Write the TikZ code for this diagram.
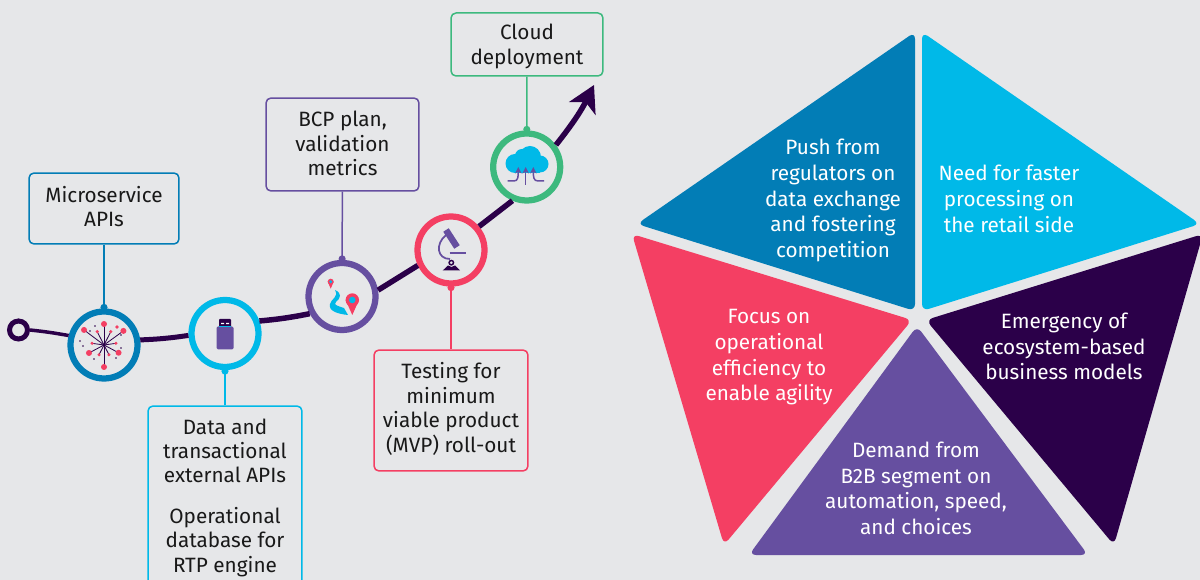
\documentclass[tikz,border=0pt]{standalone}
\usepackage{fontspec}
\setmainfont{Fira Sans}
\usetikzlibrary{arrows.meta}
\definecolor{pagegrey}{HTML}{E6E7E9}
\definecolor{deepblue}{HTML}{027DB6}
\definecolor{skyblue}{HTML}{00B9E8}
\definecolor{rosered}{HTML}{F43F63}
\definecolor{violet}{HTML}{664FA0}
\definecolor{aubergine}{HTML}{2B0049}
\definecolor{mintgreen}{HTML}{3DB97E}
\tikzset{
 notetext/.style={font=\fontsize{11.8}{13.9}\selectfont,align=center,inner sep=0pt,text=black!90},
 notebox/.style={draw=#1,line width=.03cm,rounded corners=.1cm,inner sep=0pt},
 petal/.style={fill=#1,rounded corners=.14cm},
 petaltext/.style={font=\fontsize{11.8}{14.6}\selectfont,align=center,inner sep=0pt,text=white},
 ring/.style={circle,draw=#1,line width=.125cm,minimum size=1.34cm,inner sep=0pt},
 stem/.style={draw=#1,line width=.03cm,shorten >=-.05cm,-{Circle[length=.14cm,width=.14cm]}},
 road/.style={aubergine,line width=#1},
}
\newcommand{\milestone}[3]{%
 \node[ring=#3] (#1) at (#2) {};%
}
\newcommand{\pinmark}[5]{%
 \fill[rosered] (#1-#3,#2) -- (#1,#4) -- (#1+#3,#2) -- cycle;%
 \fill[rosered] (#1,#2) circle (#3);%
 \fill[skyblue] (#1,#2) circle (#5);%
}
\begin{document}
\begin{tikzpicture}[x=.02cm,y=-.02cm]
   \path[use as bounding box,clip] (0,0) rectangle (1200,580);
   \fill[pagegrey] (0,0) rectangle (1200,580);
   % pentagon
   \fill[petal=deepblue] (915,32) -- (915,311) -- (637,224) -- cycle;
   \fill[petal=skyblue] (922,32) -- (922,311) -- (1200,224) -- cycle;
   \fill[petal=rosered] (632,234) -- (912,320) -- (724,545) -- cycle;
   \fill[petal=aubergine] (1203,234) -- (926,320) -- (1114,545) -- cycle;
   \fill[petal=violet] (917,326) -- (1088,555) -- (749,555) -- cycle;
   \node[petaltext] (push) at (833,200.5) {Push from\\regulators on\\data exchange\\and fostering\\competition};
   \node[petaltext] (need) at (1009,199) {Need for faster\\processing on\\the retail side};
   \node[petaltext] (focus) at (769,357.5) {Focus on\\operational\\efficiency to\\enable agility};
   \node[petaltext] (emerge) at (1064,346.5) {Emergency of\\ecosystem-based\\business models};
   \node[petaltext] (demand) at (916,488.5) {Demand from\\B2B segment on\\automation, speed,\\and choices};
   % milestones
   \milestone{m1}{104,345}{deepblue};
   \milestone{m2}{225,333.5}{skyblue};
   \milestone{m3}{342,296.5}{violet};
   \milestone{m4}{451,250}{rosered};
   \milestone{m5}{526.7,167}{mintgreen};
   \node[circle,draw=aubergine,line width=.1cm,minimum size=.36cm,inner sep=0pt] (origin) at (18.5,330) {};
   \coordinate (tip) at (594,85);
   % road
   \draw[road=.07cm] (origin.east) to[bend left=2] (m1.165);
   \draw[road=.1cm] (m1.8) to[bend right=3] (m2.183);
   \draw[road=.11cm] (m2.20) to[bend right=3] (m3.208);
   \draw[road=.11cm] (m3.10) -- (m4.205);
   \draw[road=.11cm] (m4.40) -- (m5.247);
   \draw[road=.11cm,-{Stealth[length=.52cm,width=.58cm,inset=.14cm]}] (m5.37) to[bend right=6] (tip);
   % notes
   \node[notebox=deepblue,minimum width=3cm,minimum height=1.42cm] (b1) at (104,208.5) {};
   \node[notebox=skyblue,minimum width=3.08cm,minimum height=3.8cm] (b2) at (225,501) {};
   \node[notebox=violet,minimum width=3.06cm,minimum height=1.86cm] (b3) at (342.5,144.5) {};
   \node[notebox=rosered,minimum width=3.08cm,minimum height=2.42cm] (b4) at (451,410.5) {};
   \node[notebox=mintgreen,minimum width=3.04cm,minimum height=1.26cm] (b5) at (527,44.5) {};
   \node[notetext] (t1) at (104,206.5) {Microservice\\APIs};
   \node[notetext] (t2) at (225,497.5) {Data and\\transactional\\external APIs\\[.32cm]Operational\\database for\\RTP engine};
   \node[notetext] (t3) at (342.5,143.5) {BCP plan,\\validation\\metrics};
   \node[notetext] (t4) at (451,409) {Testing for\\minimum\\viable product\\(MVP) roll-out};
   \node[notetext] (t5) at (527,46.5) {Cloud\\deployment};
   \draw[stem=deepblue] (b1) -- (m1);
   \draw[stem=skyblue] (b2) -- (m2);
   \draw[stem=violet] (b3) -- (m3);
   \draw[stem=rosered] (b4) -- (m4);
   \draw[stem=mintgreen] (b5) -- (m5);
   % icon m1
   \foreach \a/\r in {270/21,90/22,217/25,324/24,28/16.5,152/17} {
     \draw[aubergine,line width=.016cm] (104,345) -- ++(\a:\r);
     \fill[rosered] (104,345) ++(\a:\r) circle (3);
   }
   \foreach \a/\r in {243/15,297/15,188/12,352/12,63/11,117/11} {
     \draw[aubergine,line width=.016cm] (104,345) -- ++(\a:\r);
     \fill[rosered] (104,345) ++(\a:\r) circle (1.7);
   }
   \fill[rosered] (117,327) circle (1.8);
   \foreach \x/\y in {95/326,80/341,83/346,94/359,116/358,121/348,90/331,121/335} {
     \fill[aubergine] (\x,\y) circle (.9);
   }
   % icon m2
   \fill[aubergine,rounded corners=.02cm] (219,319) rectangle (231,327);
   \fill[white] (221,323) rectangle (224,324.2) (226,323) rectangle (229,324.2);
   \fill[violet,rounded corners=.03cm] (216.5,326.5) rectangle (233.5,349.5);
   \fill[skyblue] (219,326.5) rectangle (231,327.5);
   % icon m3
   \pinmark{330.7}{281.7}{3}{288.7}{1.6}
   \pinmark{352.3}{300}{6.7}{315}{3.3}
   \fill[skyblue] (335,290) .. controls (342,293) and (341,298) .. (336,302) .. controls (333,305) and (338,306) .. (344,308) -- (348,315) .. controls (338,314) and (328,311) .. (330,304) .. controls (331,299) and (339,297) .. (335,290);
   % icon m4
   \draw[violet,line width=.13cm] (446,230) -- (457,247);
   \draw[violet,line width=.035cm] (446,235) .. controls (435,244) and (437,259) .. (450,259);
   \draw[violet,line width=.04cm] (449.5,253.3) -- (465.7,253.3);
   \draw[aubergine,line width=.03cm] (451.3,262.7) circle (2.2);
   \fill[aubergine] (442.7,270.5) -- (448,265.5) .. controls (450,267.5) and (453,267.5) .. (455,265.5) -- (460,270.5) -- cycle;
   % icon m5
   \fill[skyblue] (530,157) circle (11) (515,163.5) circle (9.5) (522,156) circle (7) (540,164) circle (8.5);
   \fill[skyblue] (515,158) rectangle (540,173);
   \draw[violet,line width=.03cm,-{Stealth[length=.13cm,width=.13cm]}] (525.7,185) -- (525.7,167);
   \draw[violet,line width=.03cm,-{Stealth[length=.13cm,width=.13cm]}] (507.5,181) -- (514,181) .. controls (518,181) and (518.3,177) .. (518.3,167);
   \draw[violet,line width=.03cm,-{Stealth[length=.13cm,width=.13cm]}] (544,181) -- (538,181) .. controls (533.5,181) and (533.3,177) .. (533.3,167);
\end{tikzpicture}
\end{document}
